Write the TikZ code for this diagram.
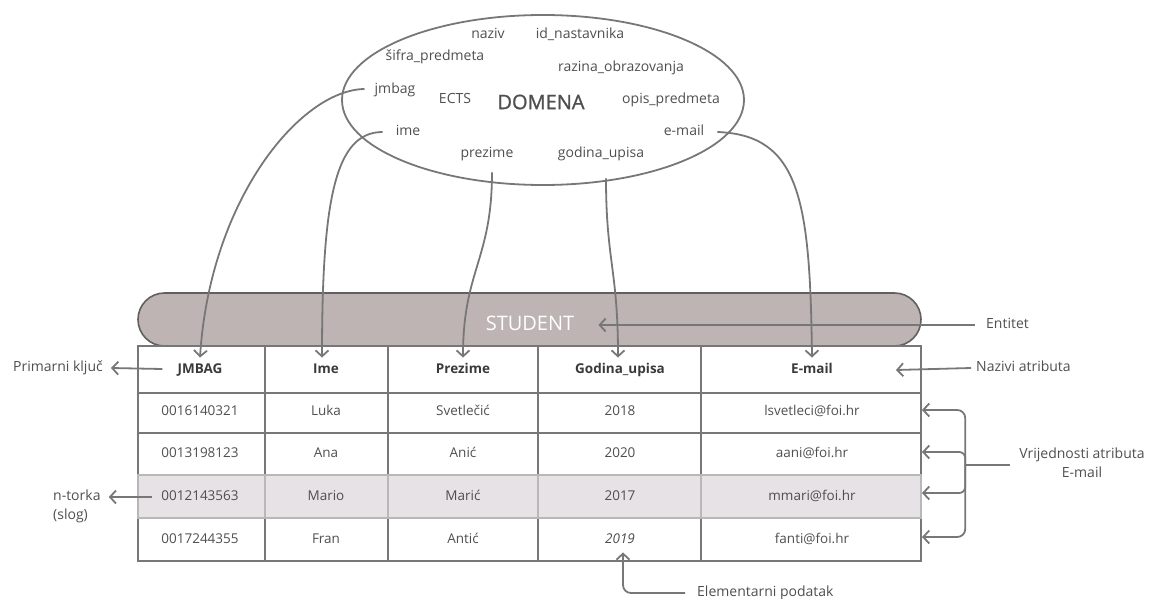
\documentclass[tikz,border=0pt]{standalone}
\usepackage{fontspec}
\setmainfont{Open Sans}
\newfontfamily\semibfont[FakeBold=1.2]{Open Sans}
\usetikzlibrary{arrows.meta,calc,shapes.geometric}
\definecolor{ln}{HTML}{777777}
\definecolor{tx}{HTML}{4F4F4F}
\definecolor{hd}{HTML}{3A3A3A}
\definecolor{bandf}{HTML}{BDB4B3}
\definecolor{bandl}{HTML}{606060}
\definecolor{rowf}{HTML}{E6E2E5}
\definecolor{rowl}{HTML}{B8B8B8}
\begin{document}
\begin{tikzpicture}[x=1pt,y=-1pt,
  lbl/.style={text=tx, inner sep=0pt, text height=9.5pt, text depth=3pt, font=\fontsize{13.5}{16}\selectfont},
  word/.style={lbl, font=\fontsize{14}{16}\selectfont},
  hdr/.style={lbl, text=hd, font=\fontsize{13.5}{16}\selectfont\bfseries},
  big/.style={text=tx, inner sep=0pt, font=\fontsize{20}{22}\selectfont},
  twoline/.style={text=tx, inner sep=0pt, align=center, font=\fontsize{14}{19}\selectfont},
  conn/.style={draw=ln, line width=1.8pt, -{Straight Barb[length=6pt,width=13pt,line width=1.8pt]}},
  plain/.style={draw=ln, line width=1.8pt},
  grid/.style={draw=ln, line width=1.6pt},
  lightgrid/.style={draw=rowl, line width=1.6pt},
]
\useasboundingbox (0,0) rectangle (1153,599);

% ---------- domain ellipse ----------
\node[ellipse, draw=ln, line width=1.8pt, minimum width=402pt, minimum height=170pt, inner sep=0pt] (dom) at (543,100) {};
\node[big, font=\fontsize{20}{22}\semibfont] (domena) at (541,102) {DOMENA};
\node[word] (naziv) at (488,35) {naziv};
\node[word] (idn) at (580,35) {id\_nastavnika};
\node[word] (sifra) at (435,57) {šifra\_predmeta};
\node[word] (razina) at (621,68) {razina\_obrazovanja};
\node[word] (jmbag) at (395,90) {jmbag};
\node[word] (ects) at (455,100) {ECTS};
\node[word] (opis) at (671,100) {opis\_predmeta};
\node[word] (ime) at (408,132) {ime};
\node[word] (email) at (684,132) {e-mail};
\node[word] (prezime) at (487,154) {prezime};
\node[word] (godina) at (601,154) {godina\_upisa};

% ---------- entity band ----------
\draw[fill=bandf, draw=bandl, line width=1.6pt, rounded corners=26.5pt] (138,293) rectangle (921,346);
\node[big, text=white] (student) at (530,323) {STUDENT};

% ---------- table ----------
\fill[rowf] (138,475) rectangle (921,518);
\draw[grid] (138,346) rectangle (921,561);
\foreach \y in {393,433,475,518} \draw[grid] (138,\y) -- (921,\y);
\foreach \x in {265,388,538,701} \draw[grid] (\x,346) -- (\x,561);
\draw[lightgrid] (138,475) rectangle (921,518);
\foreach \x in {265,388,538,701} \draw[lightgrid] (\x,475) -- (\x,518);

\node[hdr] (hj) at (200,370) {JMBAG};
\node[hdr] (hi) at (326,370) {Ime};
\node[hdr] (hp) at (463,370) {Prezime};
\node[hdr] (hg) at (620,370) {Godina\_upisa};
\node[hdr] (he) at (812,370) {E-mail};

\foreach \r/\y/\a/\b/\c/\d/\e in {
  1/412/0016140321/Luka/Svetlečić/2018/lsvetleci@foi.hr,
  2/454/0013198123/Ana/Anić/2020/aani@foi.hr,
  3/497/0012143563/Mario/Marić/2017/mmari@foi.hr,
  4/540/0017244355/Fran/Antić/\textit{2019}/fanti@foi.hr}{
  \node[lbl] (r\r-1) at (200,\y) {\a};
  \node[lbl] (r\r-2) at (326,\y) {\b};
  \node[lbl] (r\r-3) at (463,\y) {\c};
  \node[lbl] (r\r-4) at (620,\y) {\d};
  \node[lbl] (r\r-5) at (812,\y) {\e};
}

% ---------- domain -> attribute arrows ----------
\draw[conn] ($(jmbag.west)+(-10,-1)$) .. controls (300,90) and (210,200) .. ($(hj.north)+(0,-6)$);
\draw[conn] ($(ime.west)+(-13,0)$) .. controls (335,132) and (322,200) .. ($(hi.north)+(-4,-6)$);
\draw[conn] ($(prezime.south)+(5,12)$) .. controls (492,260) and (463,270) .. ($(hp.north)+(0,-6)$);
\draw[conn] ($(godina.south)+(5,18)$) .. controls (606,260) and (618,270) .. ($(hg.north)+(-2,-6)$);
\draw[conn] ($(email.east)+(13,0)$) .. controls (800,135) and (810,200) .. ($(he.north)+(0,-6)$);

% ---------- side labels ----------
\node[word, anchor=west] (ent) at (986,325) {Entitet};
\draw[conn] ($(ent.west)+(-11,0)$) -- ($(student.east)+(24,2)$);

\node[word, anchor=west] (naz) at (976,368) {Nazivi atributa};
\draw[conn] ($(naz.west)+(-5,0)$) -- ($(he.east)+(63,0)$);

\node[word, anchor=east] (pk) at (103,368) {Primarni ključ};
\draw[conn] ($(hj.west)+(-15,-1)$) -- ($(pk.east)+(8,0)$);

\node[word, anchor=west] (nt) at (53,497) {n-torka};
\node[word, anchor=west] (slog) at (53,516) {(slog)};
\draw[conn] ($(r3-1.west)+(-9,0)$) -- ($(nt.east)+(8,0)$);

\node[twoline] (va) at (1082,463) {Vrijednosti atributa\\E-mail};
\coordinate (jn) at ($(va.west)+(-54,2)$);
\draw[plain] ($(va.west)+(-9,2)$) -- (jn);
\draw[conn, rounded corners=8pt] (jn) |- ($(r1-5)+(110,-2)$);
\draw[conn, rounded corners=6pt] (jn) |- ($(r2-5)+(110,-2)$);
\draw[conn, rounded corners=6pt] (jn) |- ($(r3-5)+(110,-4)$);
\draw[conn, rounded corners=8pt] (jn) |- ($(r4-5)+(110,-3)$);

\node[word, anchor=west] (el) at (697,593) {Elementarni podatak};
\draw[conn, rounded corners=8pt] ($(el.west)+(-12,0)$) -| ($(r4-4.south)+(3,6)$);
\end{tikzpicture}
\end{document}
